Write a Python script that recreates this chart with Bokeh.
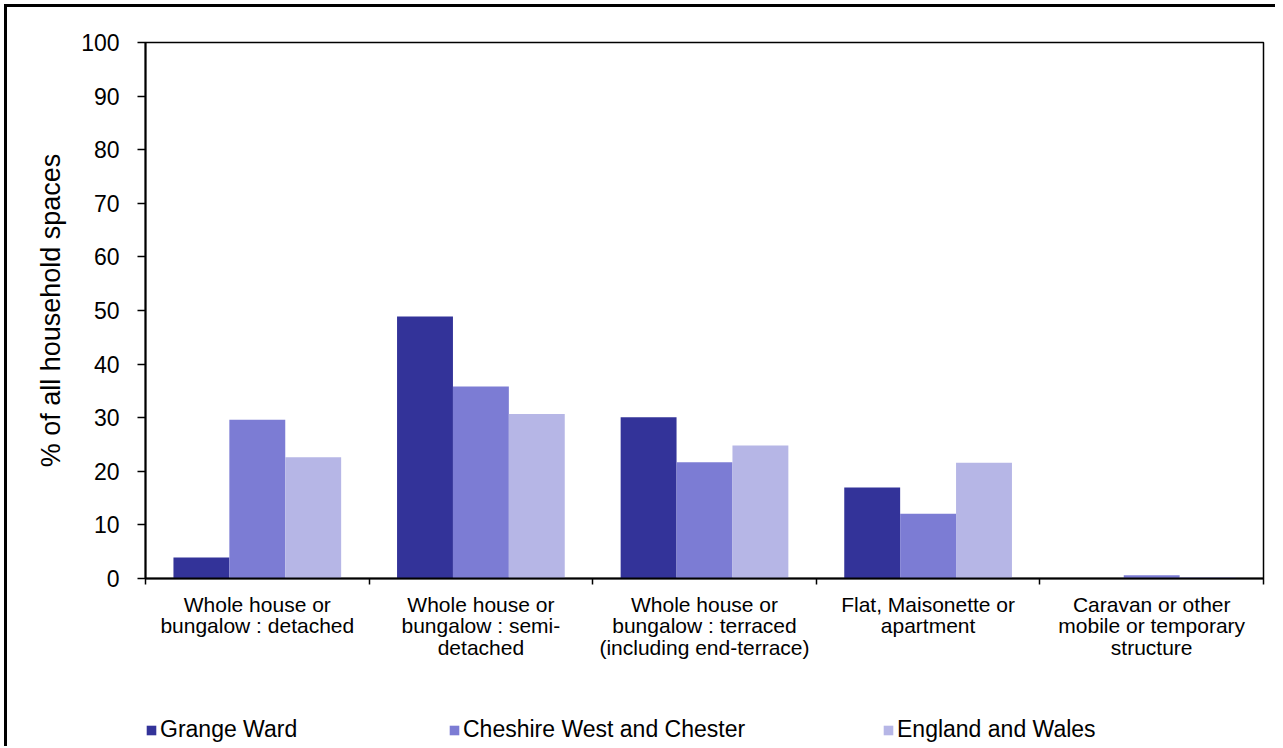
from bokeh.plotting import figure
from bokeh.layouts import column
from bokeh.models import ColumnDataSource, FixedTicker, Legend, LegendItem, Range1d
from bokeh.transform import dodge
from bokeh.embed import file_html
from bokeh.resources import INLINE

categories = [
    "Whole house or\nbungalow : detached",
    "Whole house or\nbungalow : semi-\ndetached",
    "Whole house or\nbungalow : terraced\n(including end-terrace)",
    "Flat, Maisonette or\napartment",
    "Caravan or other\nmobile or temporary\nstructure",
]
series_names = ["Grange Ward", "Cheshire West and Chester", "England and Wales"]
grange = [3.9, 48.9, 30.1, 17.0, 0.0]
cheshire = [29.6, 35.8, 21.7, 12.1, 0.6]
england = [22.6, 30.7, 24.8, 21.6, 0.3]
colors = ["#333399", "#7C7CD4", "#B6B6E6"]
y_ticks = list(range(0, 101, 10))

FONT = "Liberation Sans"

centers = [i + 0.5 for i in range(len(categories))]
bounds = list(range(len(categories) + 1))
fields = ["grange", "cheshire", "england"]
offsets = [-0.25, 0.0, 0.25]

source = ColumnDataSource(data=dict(x=centers, grange=grange, cheshire=cheshire, england=england))

W = 1271
p = figure(
    width=W, height=700,
    x_range=Range1d(0, len(categories)), y_range=Range1d(0, 100),
    output_backend="svg", toolbar_location=None,
    min_border_left=141, min_border_right=12, min_border_top=38, min_border_bottom=126,
)
p.border_fill_color = None
p.background_fill_color = "white"
p.outline_line_color = "black"
p.outline_line_width = 1.5
p.xgrid.visible = False
p.ygrid.visible = False

for field, off, col in zip(fields, offsets, colors):
    p.vbar(x=dodge("x", off), top=field, width=0.25, source=source,
           fill_color=col, line_color=None)

# y axis
p.yaxis.ticker = FixedTicker(ticks=y_ticks)
p.yaxis.axis_line_width = 2
p.yaxis.major_tick_line_width = 1.5
p.yaxis.major_tick_out = 8
p.yaxis.major_tick_in = 0
p.yaxis.minor_tick_line_color = None
p.yaxis.major_label_text_font = FONT
p.yaxis.major_label_text_font_size = "23px"
p.yaxis.major_label_text_color = "black"
p.yaxis.major_label_standoff = 18
p.yaxis.axis_label = "% of all household spaces"
p.yaxis.axis_label_text_font = FONT
p.yaxis.axis_label_text_font_size = "27px"
p.yaxis.axis_label_text_font_style = "normal"
p.yaxis.axis_label_text_color = "black"
p.yaxis.axis_label_standoff = 12

# x axis
p.xaxis.ticker = FixedTicker(ticks=centers, minor_ticks=bounds)
p.xaxis.major_label_overrides = {c: lab for c, lab in zip(centers, categories)}
p.xaxis.axis_line_width = 2
p.xaxis.major_tick_line_color = None
p.xaxis.major_tick_out = 6
p.xaxis.major_tick_in = 0
p.xaxis.minor_tick_line_color = "black"
p.xaxis.minor_tick_line_width = 1.5
p.xaxis.minor_tick_out = 6
p.xaxis.minor_tick_in = 0
p.xaxis.major_label_text_font = FONT
p.xaxis.major_label_text_font_size = "21px"
p.xaxis.major_label_text_color = "black"
p.xaxis.major_label_text_line_height = 0.95
p.xaxis.major_label_standoff = 8

# legend strip: a second figure holding only the legend keys
# (its key renderers are hidden; the legend still draws their swatches)
lf = figure(width=W, height=42, output_backend="svg", toolbar_location=None,
            x_range=Range1d(0, len(categories)), y_range=Range1d(-20, -10),
            min_border=0, x_axis_type=None, y_axis_type=None)
lf.border_fill_color = None
lf.background_fill_color = None
lf.outline_line_color = None
lf.xgrid.visible = False
lf.ygrid.visible = False

legend_x = [0, 303, 737]
for name, field, off, col, lx in zip(series_names, fields, offsets, colors, legend_x):
    key = lf.vbar(x=dodge("x", off), top=field, width=0.25, source=source,
                  fill_color=col, line_color=None)
    key.visible = False
    lg = Legend(items=[LegendItem(label=name, renderers=[key])], location=(lx, 3),
                orientation="horizontal", padding=0, margin=0,
                border_line_color=None, background_fill_color=None,
                inactive_fill_alpha=0,
                glyph_width=12, glyph_height=12, label_standoff=3,
                label_text_font=FONT, label_text_font_size="23px",
                label_text_color="black", label_height=12)
    lf.add_layout(lg, "center")

lay = column(p, lf, spacing=0)
lay.styles = {"margin-left": "4px", "margin-top": "4px", "box-shadow": "inset 3px 3px 0 0 #000"}

open("out.html", "w").write(file_html(lay, INLINE))
